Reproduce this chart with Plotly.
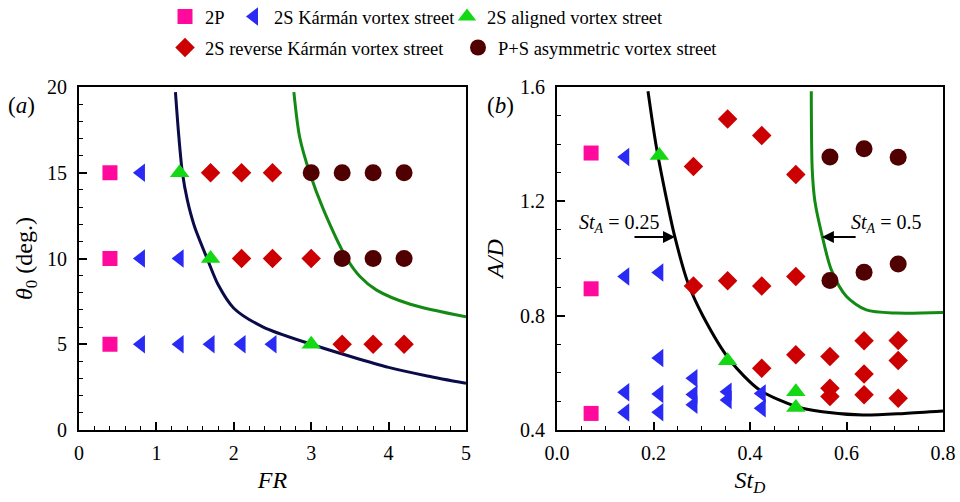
import plotly.graph_objects as go

# ---------------- Panel (a): FR vs theta0 ----------------
FR_2P = [0.4, 0.4, 0.4]
TH_2P = [5, 10, 15]
FR_KAR = [0.8, 0.8, 1.3, 0.8, 1.3, 1.7, 2.1, 2.5]
TH_KAR = [15, 10, 10, 5, 5, 5, 5, 5]
FR_ALI = [1.3, 1.7, 3.0]
TH_ALI = [15, 10, 5]
FR_REV = [1.7, 2.1, 2.5, 2.1, 2.5, 3.0, 3.4, 3.8, 4.2]
TH_REV = [15, 15, 15, 10, 10, 10, 5, 5, 5]
FR_PS = [3.0, 3.4, 3.8, 4.2, 3.4, 3.8, 4.2]
TH_PS = [15, 15, 15, 15, 10, 10, 10]

# boundary curves
FR_C1 = [1.246, 1.29, 1.336, 1.40, 1.49, 1.66, 1.80, 2.0, 2.38, 3.0, 3.5, 4.0, 4.5, 5.0]
TH_C1 = [19.7, 17.1, 15.0, 13.4, 11.9, 9.95, 8.45, 7.1, 6.0, 5.0, 4.3, 3.65, 3.15, 2.72]
FR_C2 = [2.776, 2.85, 2.98, 3.16, 3.46, 3.63, 3.84, 4.28, 5.0]
TH_C2 = [19.7, 17.1, 15.0, 12.84, 10.0, 8.95, 8.17, 7.33, 6.6]

# ---------------- Panel (b): St_D vs A/D ----------------
ST_2P = [0.0707, 0.0707, 0.0707]
AD_2P = [1.369, 0.894, 0.458]
ST_KAR = [0.1414, 0.1414, 0.1414, 0.1414,
          0.2121, 0.2121, 0.2121, 0.2121,
          0.2828, 0.2828, 0.2828,
          0.3536, 0.3536,
          0.4243, 0.4243]
AD_KAR = [1.355, 0.937, 0.532, 0.461,
          0.951, 0.652, 0.526, 0.462,
          0.581, 0.524, 0.488,
          0.534, 0.505,
          0.528, 0.476]
ST_ALI = [0.2121, 0.3536, 0.495, 0.495]
AD_ALI = [1.36, 0.642, 0.534, 0.479]
ST_REV = [0.3536, 0.4243, 0.2828, 0.495,
          0.2828, 0.3536, 0.4243, 0.495,
          0.4243, 0.495, 0.5657, 0.5657, 0.5657,
          0.6364, 0.6364, 0.6364, 0.7071, 0.7071, 0.7071]
AD_REV = [1.488, 1.43, 1.322, 1.294,
          0.904, 0.922, 0.904, 0.937,
          0.616, 0.663, 0.657, 0.546, 0.517,
          0.712, 0.596, 0.523, 0.713, 0.643, 0.511]
ST_PS = [0.5657, 0.6364, 0.7071, 0.5657, 0.6364, 0.7071]
AD_PS = [1.355, 1.384, 1.354, 0.923, 0.952, 0.981]

ST_C1 = [0.1886, 0.205, 0.228, 0.244, 0.2715, 0.303, 0.358, 0.42, 0.496, 0.55, 0.634, 0.72, 0.8]
AD_C1 = [1.585, 1.40, 1.2, 1.077, 0.914, 0.797, 0.645, 0.54, 0.482, 0.464, 0.4525, 0.458, 0.4665]
ST_C2 = [0.527, 0.529, 0.5345, 0.549, 0.5686, 0.60, 0.641, 0.703, 0.8]
AD_C2 = [1.585, 1.31, 1.2, 1.083, 0.96, 0.867, 0.82, 0.809, 0.811]

NAMES = ["2P", "2S Kármán vortex street", "2S aligned vortex street",
         "2S reverse Kármán vortex street", "P+S asymmetric vortex street"]

FONT = "Liberation Serif"
PINK = "#FF0A9C"
BLUE = "#2A2AF5"
GREEN = "#13D813"
RED = "#CC0000"
MAROON = "#500000"

styles = [
    dict(symbol="square", color=PINK, size=15),
    dict(symbol="triangle-left", color=BLUE, size=16),
    dict(symbol="triangle-up", color=GREEN, size=17),
    dict(symbol="diamond", color=RED, size=15),
    dict(symbol="circle", color=MAROON, size=17),
]
legends = ["legend", "legend2", "legend3", "legend4", "legend5"]

fig = go.Figure()

# curves
fig.add_trace(go.Scatter(x=FR_C1, y=TH_C1, mode="lines", line=dict(color="#0B0B4A", width=3, shape="spline", smoothing=0.8),
                         showlegend=False, xaxis="x", yaxis="y"))
fig.add_trace(go.Scatter(x=FR_C2, y=TH_C2, mode="lines", line=dict(color="#138A13", width=3, shape="spline", smoothing=0.8),
                         showlegend=False, xaxis="x", yaxis="y"))
fig.add_trace(go.Scatter(x=ST_C1, y=AD_C1, mode="lines", line=dict(color="#000000", width=3, shape="spline", smoothing=0.8),
                         showlegend=False, xaxis="x2", yaxis="y2"))
fig.add_trace(go.Scatter(x=ST_C2, y=AD_C2, mode="lines", line=dict(color="#138A13", width=3, shape="spline", smoothing=0.8),
                         showlegend=False, xaxis="x2", yaxis="y2"))

panel_a = [(FR_2P, TH_2P), (FR_KAR, TH_KAR), (FR_ALI, TH_ALI), (FR_REV, TH_REV), (FR_PS, TH_PS)]
panel_b = [(ST_2P, AD_2P), (ST_KAR, AD_KAR), (ST_ALI, AD_ALI), (ST_REV, AD_REV), (ST_PS, AD_PS)]

for i, (xs, ys) in enumerate(panel_a):
    s = styles[i]
    fig.add_trace(go.Scatter(x=xs, y=ys, mode="markers", name=NAMES[i],
                             marker=dict(symbol=s["symbol"], color=s["color"], size=s["size"], line=dict(width=0)),
                             legend=legends[i], showlegend=True, cliponaxis=False,
                             xaxis="x", yaxis="y"))
for i, (xs, ys) in enumerate(panel_b):
    s = styles[i]
    fig.add_trace(go.Scatter(x=xs, y=ys, mode="markers", name=NAMES[i],
                             marker=dict(symbol=s["symbol"], color=s["color"], size=s["size"], line=dict(width=0)),
                             showlegend=False, cliponaxis=False,
                             xaxis="x2", yaxis="y2"))

axis_common = dict(showline=True, linewidth=2, linecolor="black", mirror=True,
                   ticks="inside", ticklen=8, tickwidth=2, tickcolor="black",
                   showgrid=False, zeroline=False, automargin=False,
                   tickfont=dict(family=FONT, size=20, color="black"))

DOM_Y = [72 / 502, 415 / 502]

fig.update_layout(
    width=960, height=502,
    margin=dict(l=0, r=0, t=0, b=0, autoexpand=False),
    paper_bgcolor="white", plot_bgcolor="white",
    font=dict(family=FONT, color="black"),
    xaxis=dict(domain=[79 / 960, 466 / 960], range=[0, 5], dtick=1, anchor="y",
               minor=dict(ticks="inside", ticklen=4, tickwidth=1, dtick=0.2, tickcolor="black"),
               title=dict(text="<i>FR</i>", font=dict(family=FONT, size=24), standoff=8),
               ticklabelstandoff=4, **axis_common),
    yaxis=dict(domain=DOM_Y, range=[0, 20], dtick=5, anchor="x",
               minor=dict(ticks="inside", ticklen=4, tickwidth=1, dtick=1, tickcolor="black"),
               title=dict(text="<i>θ</i><sub>0</sub> (deg.)", font=dict(family=FONT, size=24), standoff=8),
               ticklabelstandoff=6, **axis_common),
    xaxis2=dict(domain=[557 / 960, 943 / 960], range=[0, 0.8], dtick=0.2, anchor="y2",
                tickformat=".1f",
                minor=dict(ticks="inside", ticklen=4, tickwidth=1, dtick=0.05, tickcolor="black"),
                title=dict(text="<i>St</i><sub><i>D</i></sub>", font=dict(family=FONT, size=24), standoff=8),
                ticklabelstandoff=4, **axis_common),
    yaxis2=dict(domain=DOM_Y, range=[0.4, 1.6], dtick=0.4, anchor="x2",
                tickformat=".1f",
                minor=dict(ticks="inside", ticklen=4, tickwidth=1, dtick=0.1, tickcolor="black"),
                title=dict(text="<i>A/D</i>", font=dict(family=FONT, size=24), standoff=10),
                ticklabelstandoff=6, **axis_common),
)

leg_pos = [(165, 17), (234, 17), (447, 17), (165, 48), (458, 48)]
for name, (px, py) in zip(legends, leg_pos):
    fig.update_layout({name: dict(x=px / 960, y=1 - py / 502, xref="container", yref="container",
                                  xanchor="left", yanchor="middle",
                                  orientation="h", bgcolor="rgba(0,0,0,0)", borderwidth=0,
                                  font=dict(family=FONT, size=18.5, color="black"),
                                  itemsizing="trace")})

# annotations
fig.add_annotation(x=0.2446, y=1.075, ax=0.1575, ay=1.075, xref="x2", yref="y2", axref="x2", ayref="y2",
                   text="", showarrow=True, arrowhead=2, arrowsize=1.2, arrowwidth=2, arrowcolor="black")
fig.add_annotation(x=0.549, y=1.075, ax=0.622, ay=1.075, xref="x2", yref="y2", axref="x2", ayref="y2",
                   text="", showarrow=True, arrowhead=2, arrowsize=1.2, arrowwidth=2, arrowcolor="black")
fig.add_annotation(x=0.128, y=1.124, xref="x2", yref="y2", showarrow=False,
                   text="<i>St</i><sub><i>A</i></sub> = 0.25", font=dict(family=FONT, size=20, color="black"))
fig.add_annotation(x=0.6815, y=1.124, xref="x2", yref="y2", showarrow=False,
                   text="<i>St</i><sub><i>A</i></sub> = 0.5", font=dict(family=FONT, size=20, color="black"))
fig.add_annotation(x=6 / 960, y=1 - 91 / 502, xref="paper", yref="paper", showarrow=False,
                   xanchor="left", text="(<i>a</i>)", font=dict(family=FONT, size=23, color="black"))
fig.add_annotation(x=485 / 960, y=1 - 91 / 502, xref="paper", yref="paper", showarrow=False,
                   xanchor="left", text="(<i>b</i>)", font=dict(family=FONT, size=23, color="black"))

fig.write_html("out.html")
